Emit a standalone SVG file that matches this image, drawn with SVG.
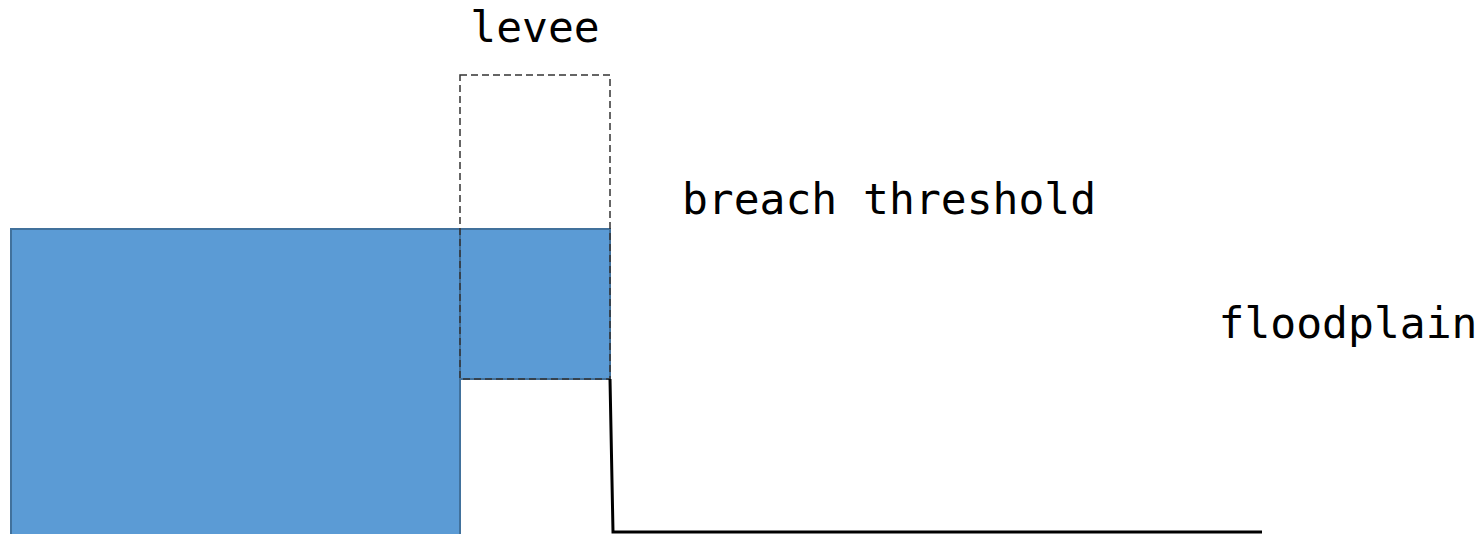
<svg xmlns="http://www.w3.org/2000/svg" width="1482" height="534" viewBox="0 0 1482 534">
  <style>
    .water { fill: #5B9BD5; stroke: #41719C; stroke-width: 2; }
    .levee { fill: none; stroke: #333; stroke-width: 1.5; stroke-dasharray: 7 4; }
    .ground { fill: none; stroke: #000; stroke-width: 3; }
    .label { font-family: "DejaVu Sans Mono", "Liberation Mono", monospace; font-size: 43px; fill: #000; }
  </style>
  <rect width="1482" height="534" fill="#fff"/>
  <!-- river channel water -->
  <g id="river">
    <rect class="water" x="11" y="229" width="449" height="310"/>
  </g>
  <!-- water over the levee crest -->
  <g id="overtop">
    <rect class="water" x="460" y="229" width="150" height="150"/>
  </g>
  <!-- levee outline -->
  <g id="levee">
    <rect class="levee" x="460" y="75" width="150" height="304"/>
    <text class="label" x="535" y="42" text-anchor="middle">levee</text>
  </g>
  <!-- floodplain ground profile -->
  <g id="connectors">
    <polyline class="ground" points="610,379 613,532 1262,532"/>
  </g>
  <g id="threshold">
    <text class="label" x="889" y="214" text-anchor="middle">breach threshold</text>
  </g>
  <g id="floodplain">
    <text class="label" x="1348" y="338" text-anchor="middle">floodplain</text>
  </g>
</svg>
